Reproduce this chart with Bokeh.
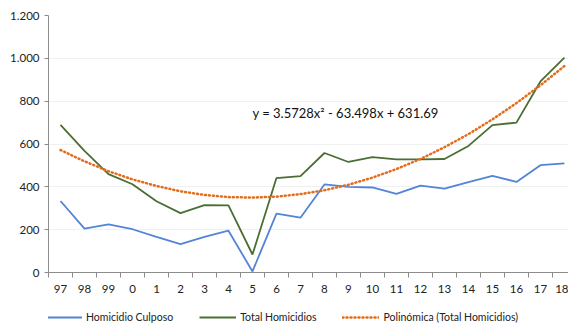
from bokeh.plotting import figure
from bokeh.layouts import column
from bokeh.models import FixedTicker, Legend, LegendItem, Label, ColumnDataSource, Range1d
from bokeh.embed import file_html
from bokeh.resources import INLINE

years = ["97", "98", "99", "0", "1", "2", "3", "4", "5", "6", "7", "8", "9",
         "10", "11", "12", "13", "14", "15", "16", "17", "18"]
culposo = [334, 205, 225, 202, 166, 133, 166, 195, 5, 275, 256, 411, 400,
           397, 367, 406, 392, 422, 451, 423, 501, 510]
total = [689, 568, 459, 412, 333, 277, 315, 313, 84, 441, 450, 558, 516,
         539, 528, 528, 530, 591, 688, 700, 892, 1003]
trend = [572, 519, 473, 435, 404, 379, 362, 352, 350, 354, 366, 384, 410,
         443, 483, 530, 585, 646, 715, 791, 874, 964]
y_ticks = [0, 200, 400, 600, 800, 1000, 1200]
y_labels = ["0", "200", "400", "600", "800", "1.000", "1.200"]
series_names = ["Homicidio Culposo", "Total Homicidios", "Polinómica (Total Homicidios)"]
equation = "y = 3.5728x\u00b2 - 63.498x + 631.69"

FONT = "Lato"
BLUE = "#5384D8"
GREEN = "#4B6E32"
ORANGE = "#E46C1A"

xs = list(range(len(years)))
src = ColumnDataSource(dict(x=xs, culposo=culposo, total=total, trend=trend))

p = figure(width=568, height=295, output_backend="svg", toolbar_location=None,
           x_range=Range1d(-0.5, len(years) - 0.83), y_range=Range1d(0, 1200),
           min_border_left=48, min_border_top=15, min_border_right=0,
           min_border_bottom=0)
p.outline_line_color = None
p.background_fill_color = "white"
p.border_fill_color = "white"

p.line("x", "culposo", source=src, line_color=BLUE, line_width=1.8)
p.line("x", "total", source=src, line_color=GREEN, line_width=1.8)
p.line("x", "trend", source=src, line_color=ORANGE, line_width=2.5,
       line_dash="1 3", line_cap="round")

# x axis
p.xaxis.ticker = FixedTicker(ticks=xs, minor_ticks=[i - 0.5 for i in range(len(years) + 1)])
p.xaxis.major_label_overrides = {i: y for i, y in enumerate(years)}
p.xaxis.major_tick_line_color = None
p.xaxis.minor_tick_line_color = "#8c8c8c"
p.xaxis.minor_tick_out = 5
p.xaxis.minor_tick_in = 0
p.xaxis.axis_line_color = "#8c8c8c"
p.xaxis.major_label_standoff = 6

# y axis
p.yaxis.ticker = FixedTicker(ticks=y_ticks)
p.yaxis.major_label_overrides = {t: l for t, l in zip(y_ticks, y_labels)}
p.yaxis.axis_line_color = "#8c8c8c"
p.yaxis.major_tick_line_color = "#8c8c8c"
p.yaxis.major_tick_out = 4
p.yaxis.major_tick_in = 0
p.yaxis.minor_tick_line_color = None
p.yaxis.major_label_standoff = 5

for ax in (p.xaxis, p.yaxis):
    ax.major_label_text_font = FONT
    ax.major_label_text_font_size = "11.5px"
    ax.major_label_text_color = "#222222"

p.xgrid.grid_line_color = None
p.ygrid.grid_line_color = "#f0f0f0"

p.add_layout(Label(x=8.0, y=745, text=equation, text_font=FONT,
                   text_font_size="13px", text_color="#111111",
                   text_baseline="middle", text_align="left"))

# legend in its own strip
lg = figure(width=568, height=28, output_backend="svg", toolbar_location=None,
            x_axis_type=None, y_axis_type=None,
            x_range=Range1d(0, 1), y_range=Range1d(0, 1),
            min_border_left=0, min_border_right=0, min_border_top=0, min_border_bottom=0)
lg.outline_line_color = None
lg.xgrid.grid_line_color = None
lg.ygrid.grid_line_color = None
l1 = lg.line([0, 1], [-5, -5], line_color=BLUE, line_width=1.8)
l2 = lg.line([0, 1], [-5, -5], line_color=GREEN, line_width=1.8)
l3 = lg.line([0, 1], [-5, -5], line_color=ORANGE, line_width=2.5,
             line_dash="1 3", line_cap="round")
legend = Legend(items=[LegendItem(label=series_names[0], renderers=[l1]),
                       LegendItem(label=series_names[1], renderers=[l2]),
                       LegendItem(label=series_names[2], renderers=[l3])],
                orientation="horizontal", location=(-3, 0),
                border_line_color=None, background_fill_alpha=0,
                label_text_font=FONT, label_text_font_size="10.5px",
                label_text_color="#222222", glyph_width=37, glyph_height=12,
                label_standoff=4, spacing=26, padding=3, margin=0)
lg.add_layout(legend)

layout = column(p, lg, spacing=0)
open("out.html", "w").write(file_html(layout, INLINE))
